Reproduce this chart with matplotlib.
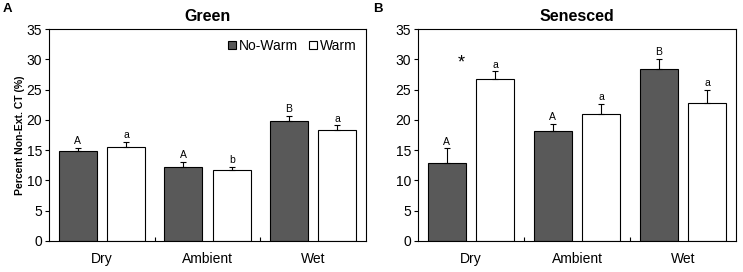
import numpy as np
import matplotlib.pyplot as plt

plt.rcParams['font.family'] = ['Liberation Sans', 'DejaVu Sans']

groups = ['Dry', 'Ambient', 'Wet']

# Green
green_nowarm = [14.8, 12.2, 19.9]
green_nowarm_err = [0.6, 0.9, 0.7]
green_warm = [15.5, 11.7, 18.4]
green_warm_err = [0.9, 0.6, 0.7]
green_nw_letters = ['A', 'A', 'B']
green_w_letters = ['a', 'b', 'a']

# Senesced
sen_nowarm = [12.9, 18.1, 28.4]
sen_nowarm_err = [2.4, 1.2, 1.65]
sen_warm = [26.75, 21.0, 22.8]
sen_warm_err = [1.25, 1.6, 2.1]
sen_nw_letters = ['A', 'A', 'B']
sen_w_letters = ['a', 'a', 'a']

dark = '#595959'
W = 0.36
off = 0.23

fig = plt.figure(figsize=(7.43, 2.72), dpi=100)
axA = fig.add_axes([0.066, 0.114, 0.4266, 0.779])
axB = fig.add_axes([0.5626, 0.114, 0.428, 0.779])


def panel(ax, nw, nwe, w, we, nwl, wl, title):
    x = np.arange(len(groups))
    ax.bar(x - off, nw, W, color=dark, edgecolor='black', linewidth=0.8,
           yerr=[np.zeros(3), nwe], error_kw=dict(ecolor='black', elinewidth=0.8, capsize=2.5, capthick=0.8),
           label='No-Warm', zorder=2)
    ax.bar(x + off, w, W, color='white', edgecolor='black', linewidth=0.8,
           yerr=[np.zeros(3), we], error_kw=dict(ecolor='black', elinewidth=0.8, capsize=2.5, capthick=0.8),
           label='Warm', zorder=2)
    for i in range(3):
        ax.text(x[i] - off, nw[i] + nwe[i] + 0.3, nwl[i], ha='center', va='bottom', fontsize=7.5)
        ax.text(x[i] + off, w[i] + we[i] + 0.3, wl[i], ha='center', va='bottom', fontsize=7.5)
    ax.set_xlim(-0.5, 2.5)
    ax.set_ylim(0, 35)
    ax.set_yticks(range(0, 36, 5))
    ax.set_xticks(x)
    ax.set_xticklabels(groups, fontsize=10)
    ax.tick_params(axis='x', length=0, pad=8)
    ax.set_xticks([0.5, 1.5], minor=True)
    ax.tick_params(axis='x', which='minor', direction='in', length=3, width=0.8)
    ax.tick_params(axis='y', labelsize=10, length=3, width=0.8, pad=2)
    for s in ax.spines.values():
        s.set_linewidth(0.8)
    ax.set_title(title, fontsize=11.5, fontweight='bold', pad=6)


panel(axA, green_nowarm, green_nowarm_err, green_warm, green_warm_err,
      green_nw_letters, green_w_letters, 'Green')
panel(axB, sen_nowarm, sen_nowarm_err, sen_warm, sen_warm_err,
      sen_nw_letters, sen_w_letters, 'Senesced')

axA.set_ylabel('Percent Non-Ext. CT (%)', fontsize=7.5, fontweight='bold', labelpad=1)
axA.legend(loc='upper right', ncol=2, frameon=False, fontsize=10, handlelength=0.55,
           handleheight=0.55, handletextpad=0.2, columnspacing=0.8, borderaxespad=0.3)

axB.text(-0.09, 28.0, '*', ha='center', va='bottom', fontsize=13)

fig.text(0.003, 0.99, 'A', fontsize=9.5, fontweight='bold', va='top')
fig.text(0.502, 0.99, 'B', fontsize=9.5, fontweight='bold', va='top')

fig.savefig('out.png', dpi=100)
